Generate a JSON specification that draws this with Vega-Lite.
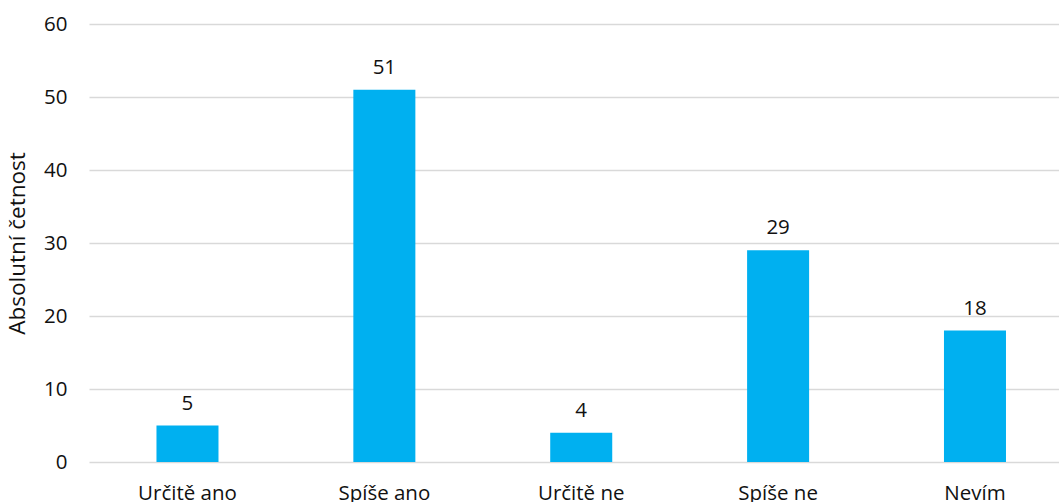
{
  "$schema": "https://vega.github.io/schema/vega-lite/v6.json",
  "autosize": "none",
  "width": 970,
  "height": 438,
  "padding": {"left": 89, "top": 24, "right": 0, "bottom": 40},
  "background": "white",
  "config": {
    "view": {"stroke": null},
    "font": "Open Sans",
    "axis": {"labelColor": "#111111", "titleColor": "#111111"}
  },
  "data": {
    "values": [
      {"odpoved": "Určitě ano", "cetnost": 5},
      {"odpoved": "Spíše ano", "cetnost": 51},
      {"odpoved": "Určitě ne", "cetnost": 4},
      {"odpoved": "Spíše ne", "cetnost": 29},
      {"odpoved": "Nevím", "cetnost": 18}
    ]
  },
  "encoding": {
    "x": {
      "field": "odpoved",
      "type": "nominal",
      "sort": null,
      "scale": {"paddingInner": 0.685, "paddingOuter": 0.306, "align": 0.56},
      "axis": {
        "title": null,
        "labelAngle": 0,
        "labelFontSize": 20.5,
        "labelPadding": 21,
        "ticks": false,
        "domain": false
      }
    },
    "y": {
      "field": "cetnost",
      "type": "quantitative",
      "scale": {"domain": [0, 60]},
      "axis": {
        "title": "Absolutní četnost",
        "titleFontSize": 22.5,
        "titleFontWeight": "normal",
        "titlePadding": 14,
        "labelFontSize": 20.5,
        "labelPadding": 22,
        "values": [0, 10, 20, 30, 40, 50, 60],
        "ticks": false,
        "domain": false,
        "gridColor": "#D9D9D9",
        "gridWidth": 1.5
      }
    }
  },
  "layer": [
    {"mark": {"type": "bar", "color": "#00B0F0"}},
    {
      "mark": {"type": "text", "baseline": "bottom", "dy": -12, "fontSize": 20.5, "color": "#111111"},
      "encoding": {"text": {"field": "cetnost", "type": "quantitative"}}
    }
  ]
}
